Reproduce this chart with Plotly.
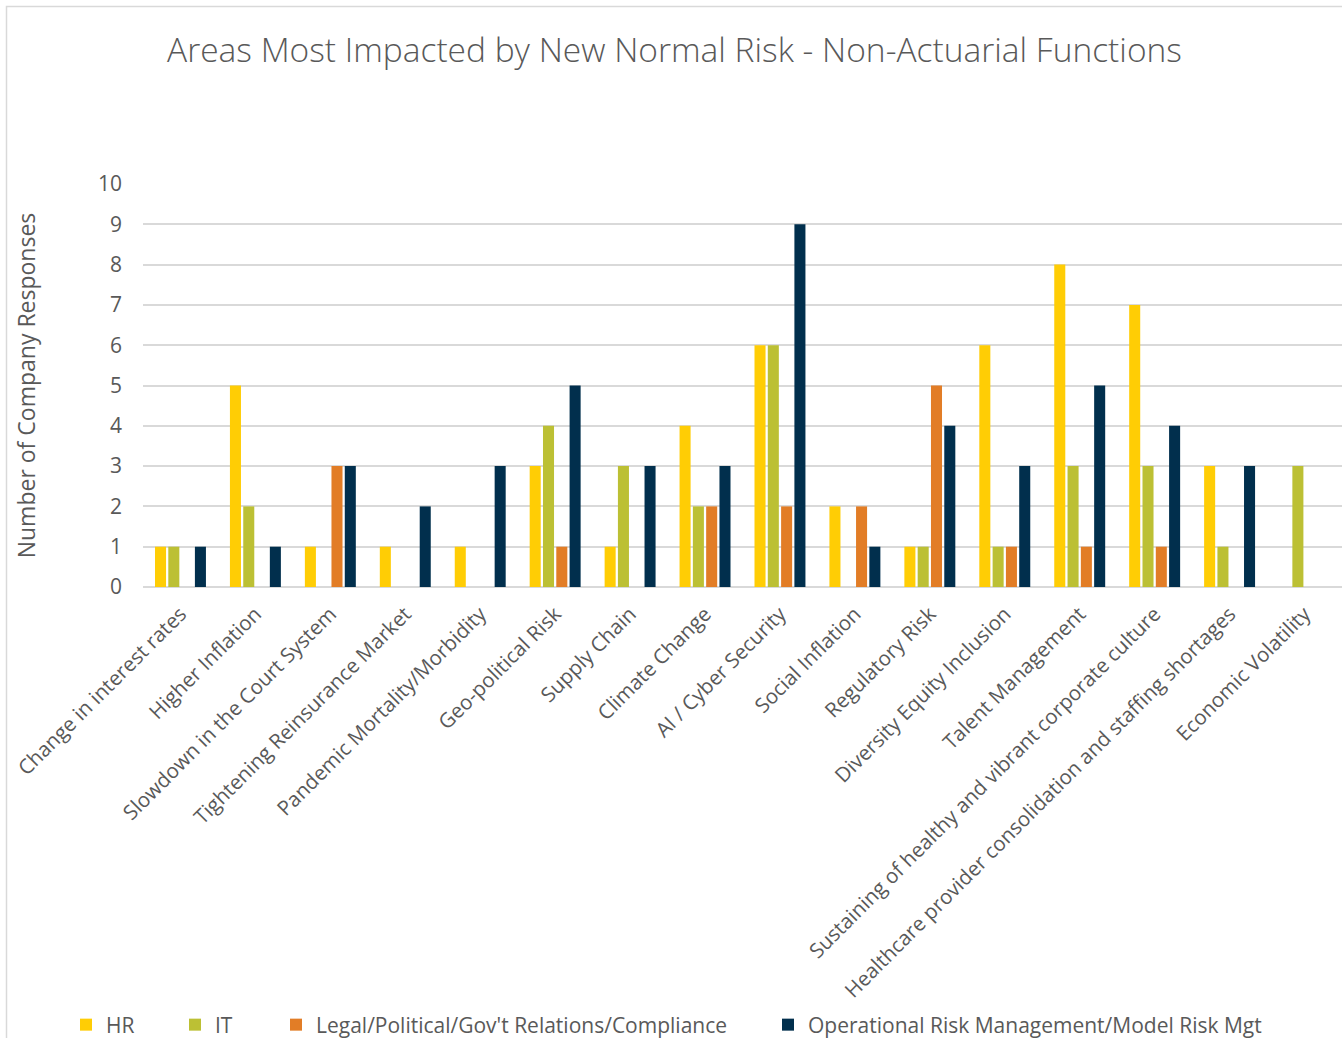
import plotly.graph_objects as go

categories = [
    "Change in interest rates",
    "Higher Inflation",
    "Slowdown in the Court System",
    "Tightening Reinsurance Market",
    "Pandemic Mortality/Morbidity",
    "Geo-political Risk",
    "Supply Chain",
    "Climate Change",
    "AI / Cyber Security",
    "Social Inflation",
    "Regulatory Risk",
    "Diversity Equity Inclusion",
    "Talent Management",
    "Sustaining of healthy and vibrant corporate culture",
    "Healthcare provider consolidation and staffing shortages",
    "Economic Volatility",
]

hr    = [1, 5, 1, 1, 1, 3, 1, 4, 6, 2, 1, 6, 8, 7, 3, 0]
it    = [1, 2, 0, 0, 0, 4, 3, 2, 6, 0, 1, 1, 3, 3, 1, 3]
legal = [0, 0, 3, 0, 0, 1, 0, 2, 2, 2, 5, 1, 1, 1, 0, 0]
ops   = [1, 1, 3, 2, 3, 5, 3, 3, 9, 1, 4, 3, 5, 4, 3, 0]

series_names = ["HR", "IT", "Legal/Political/Gov't Relations/Compliance",
                "Operational Risk Management/Model Risk Mgt"]
series_values = [hr, it, legal, ops]
colors = ["#FFCD05", "#BCC034", "#E27D26", "#012F4D"]
legend_ids = ["legend", "legend2", "legend3", "legend4"]

W, H = 1342, 1038
ML, MR, MT, MB = 143, 0, 184, 451
PW = W - ML - MR
PH = H - MT - MB

def px_x(px):
    return (px - ML) / PW

def px_y(py):
    return (H - MB - py) / PH

TEXT = "#595959"
FONT = "Open Sans, Noto Sans, sans-serif"

fig = go.Figure()
for name, vals, col, lg in zip(series_names, series_values, colors, legend_ids):
    fig.add_trace(go.Bar(
        x=categories, y=vals, name=name, marker_color=col,
        marker_line_width=0, legend=lg, showlegend=True,
    ))

legend_left_px = [66, 175, 276, 768]
legend_common = dict(
    orientation="h", yanchor="middle", xanchor="left",
    xref="container", yref="container", visible=True,
    font=dict(family=FONT, size=21, color=TEXT),
    bgcolor="rgba(0,0,0,0)", borderwidth=0,
)
legends = {}
for lg, lx in zip(legend_ids, legend_left_px):
    legends[lg] = dict(x=lx / W, y=1 - 1025 / H, **legend_common)

fig.update_layout(
    width=W, height=H,
    showlegend=True,
    margin=dict(l=ML, r=MR, t=MT, b=MB, autoexpand=False),
    paper_bgcolor="white", plot_bgcolor="white",
    barmode="group", bargap=0.29, bargroupgap=0.17,
    font=dict(family=FONT, color=TEXT),
    title=dict(
        text="Areas Most Impacted by New Normal Risk - Non-Actuarial Functions",
        font=dict(family=FONT, size=33.5, color=TEXT, weight=300),
        x=674.5 / W, xref="container", xanchor="center",
        y=1 - 50 / H, yref="container", yanchor="middle",
    ),
    xaxis=dict(
        tickangle=-45, tickfont=dict(family=FONT, size=20.5, color=TEXT),
        showgrid=False, showline=False, ticks="", zeroline=False,
        ticklabelstandoff=10,
    ),
    yaxis=dict(
        range=[0, 10], dtick=1, tick0=0,
        showgrid=True, gridcolor="#D9D9D9", gridwidth=1.5,
        zeroline=True, zerolinecolor="#D9D9D9", zerolinewidth=1.5,
        showline=False, ticks="",
        tickfont=dict(family=FONT, size=21, color=TEXT),
        ticklabelstandoff=20,
        title=dict(text="Number of Company Responses",
                   font=dict(family=FONT, size=23, color=TEXT),
                   standoff=55),
    ),
    shapes=[dict(
        type="rect", xref="paper", yref="paper",
        x0=px_x(6.5), x1=px_x(1400), y0=px_y(1100), y1=px_y(6.5),
        line=dict(color="#D9D9D9", width=1.5), fillcolor="rgba(0,0,0,0)",
        layer="below",
    )],
    **legends,
)

fig.write_html(
    "out.html",
    config={"displayModeBar": False},
    post_script="document.body.style.margin='0';document.body.style.overflow='hidden';",
)
